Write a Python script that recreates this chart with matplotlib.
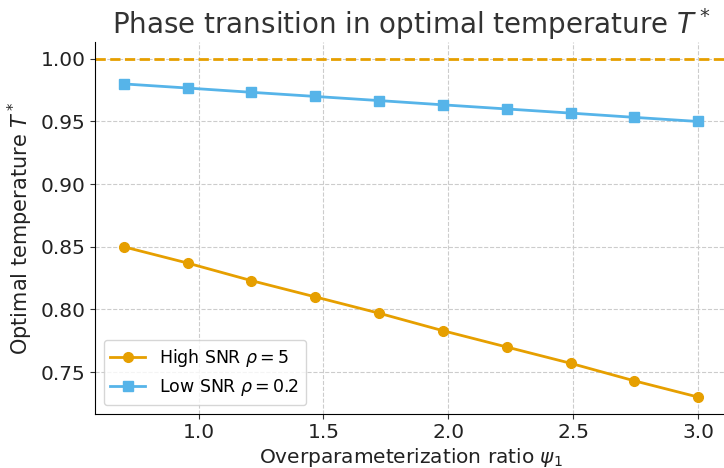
import matplotlib
matplotlib.use("Agg")
import matplotlib.pyplot as plt

psi = [0.7, 0.956, 1.211, 1.467, 1.722, 1.978, 2.233, 2.489, 2.744, 3.0]
high_snr = [0.850, 0.837, 0.823, 0.810, 0.797, 0.783, 0.770, 0.757, 0.743, 0.730]
low_snr = [0.980, 0.9767, 0.9733, 0.970, 0.9667, 0.9633, 0.960, 0.9567, 0.9533, 0.950]
ref_level = 1.0

orange = "#E69F00"
blue = "#56B4E9"

fig = plt.figure(figsize=(7.24, 4.68), dpi=100)
ax = fig.add_axes([0.131, 0.1154, 0.873, 0.795])

ax.plot(psi, high_snr, "-o", color=orange, lw=2, ms=7, label=r"High SNR $\rho = 5$")
ax.plot(psi, low_snr, "-s", color=blue, lw=2, ms=7, label=r"Low SNR $\rho = 0.2$")
ax.axhline(ref_level, color=orange, ls="--", lw=2)

ax.set_xlim(0.585, 3.115)
ax.set_ylim(0.7165, 1.0135)
ax.set_yticks([0.75, 0.80, 0.85, 0.90, 0.95, 1.00])
ax.set_xticks([1.0, 1.5, 2.0, 2.5, 3.0])
ax.grid(True, ls="--", color="#cccccc", lw=0.8)
ax.set_axisbelow(True)
for s in ["top", "right"]:
    ax.spines[s].set_visible(False)
ax.tick_params(labelsize=14.5, length=3.5, pad=3, color="#333333", labelcolor="#222222")
ax.set_xlabel(r"Overparameterization ratio $\psi_1$", fontsize=14.5, color="#222222", labelpad=3)
ax.set_ylabel(r"Optimal temperature $T^*$", fontsize=15, color="#222222")
ax.set_title(r"Phase transition in optimal temperature $T^*$", fontsize=20, color="#333333")
ax.legend(loc="lower left", fontsize=12.5, framealpha=0.8)

fig.savefig("out.png", dpi=100)
